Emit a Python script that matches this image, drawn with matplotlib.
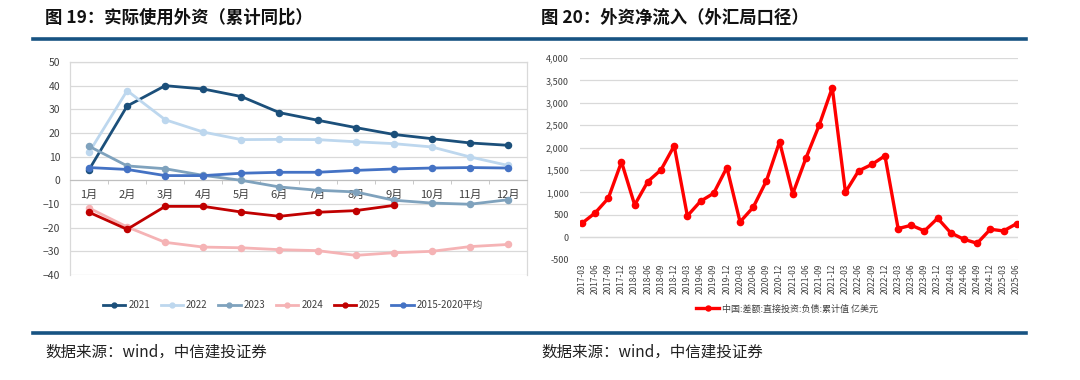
import matplotlib
matplotlib.use("Agg")
import matplotlib.pyplot as plt
from matplotlib.ticker import FuncFormatter, FixedLocator
from matplotlib.lines import Line2D

plt.rcParams['font.family'] = ['Noto Sans CJK SC', 'DejaVu Sans']

# ---------------- data: left chart ----------------
months = ["1月", "2月", "3月", "4月", "5月", "6月", "7月", "8月", "9月", "10月", "11月", "12月"]
y2021 = [4.5, 31.4, 40.0, 38.6, 35.4, 28.6, 25.4, 22.3, 19.4, 17.6, 15.8, 14.8]
y2022 = [11.8, 37.9, 25.6, 20.4, 17.2, 17.3, 17.2, 16.3, 15.5, 14.1, 9.9, 6.3]
y2023 = [14.4, 6.1, 4.9, 2.1, 0.0, -2.8, -4.2, -4.9, -8.4, -9.6, -10.1, -8.2]
y2024 = [-11.7, -19.7, -26.2, -28.2, -28.5, -29.3, -29.7, -31.7, -30.6, -30.0, -28.0, -27.1]
y2025 = [-13.5, -20.7, -11.0, -11.0, -13.4, -15.2, -13.5, -12.8, -10.6]
yavg = [5.4, 4.6, 2.0, 2.0, 3.0, 3.4, 3.4, 4.2, 4.8, 5.2, 5.4, 5.2]
left_series = [("2021", y2021), ("2022", y2022), ("2023", y2023),
               ("2024", y2024), ("2025", y2025), ("2015-2020平均", yavg)]

# ---------------- data: right chart ----------------
quarters = ["2017-03", "2017-06", "2017-09", "2017-12",
            "2018-03", "2018-06", "2018-09", "2018-12",
            "2019-03", "2019-06", "2019-09", "2019-12",
            "2020-03", "2020-06", "2020-09", "2020-12",
            "2021-03", "2021-06", "2021-09", "2021-12",
            "2022-03", "2022-06", "2022-09", "2022-12",
            "2023-03", "2023-06", "2023-09", "2023-12",
            "2024-03", "2024-06", "2024-09", "2024-12",
            "2025-03", "2025-06"]
fdi_liab = [313, 544, 872, 1683, 722, 1244, 1505, 2041, 477, 804, 983, 1557,
            343, 670, 1259, 2130, 968, 1765, 2495, 3337, 1006, 1482, 1624, 1818,
            194, 268, 142, 425, 97, -45, -134, 179, 142, 305]
right_label = "中国:差额:直接投资:负债:累计值 亿美元"

left_colors = ["#1B4F7A", "#BDD7EE", "#7FA2BD", "#F5B3B5", "#C00000", "#4472C4"]

W, H = 1080, 380
fig = plt.figure(figsize=(W / 100, H / 100), dpi=100)

def fx(px):
    return px / W

def fy(py):
    return 1 - py / H

# Titles
fig.text(fx(45), fy(18), "图 19：实际使用外资（累计同比）", fontsize=12.5, fontweight='bold',
         va='center', ha='left', color='#111111')
fig.text(fx(541), fy(18), "图 20：外资净流入（外汇局口径）", fontsize=12.5, fontweight='bold',
         va='center', ha='left', color='#111111')

# header / footer rules
for yy in (39, 333):
    fig.add_artist(Line2D([fx(33), fx(1026)], [fy(yy), fy(yy)], color='#175382', lw=2.6))

# footers
fig.text(fx(45), fy(352), "数据来源：wind，中信建投证券", fontsize=11.2, va='center', ha='left',
         color='#222222', style='italic')
fig.text(fx(541), fy(352), "数据来源：wind，中信建投证券", fontsize=11.2, va='center', ha='left',
         color='#222222', style='italic')

# ---------------- left chart ----------------
axL = fig.add_axes([fx(70), fy(275), fx(527) - fx(70), fy(62) - fy(275)])
xs = list(range(len(months)))
for (name, vals), col in zip(left_series, left_colors):
    axL.plot(xs[:len(vals)], vals, color=col, lw=2.0, marker='o', ms=4.4,
             label=name, zorder=3)
axL.set_xlim(-0.5, 11.5)
axL.set_ylim(-40, 50)
axL.set_yticks(range(-40, 51, 10))
axL.grid(axis='y', color='#D9D9D9', lw=0.9, zorder=0)
axL.set_axisbelow(True)
for s in ('top', 'left', 'right'):
    axL.spines[s].set_color('#D9D9D9')
    axL.spines[s].set_linewidth(0.9)
axL.spines['bottom'].set_position(('data', 0))
axL.spines['bottom'].set_color('#BFBFBF')
axL.set_xticks(xs)
axL.set_xticklabels(months)
axL.xaxis.set_minor_locator(FixedLocator([i + 0.5 for i in range(-1, 12)]))
axL.tick_params(axis='x', which='major', length=0, pad=7, labelsize=8, labelcolor='#404040')
axL.tick_params(axis='x', which='minor', length=3, color='#BFBFBF')
axL.tick_params(axis='y', length=0, pad=7, labelsize=7.5, labelcolor='#404040')
axL.legend(loc='center', bbox_to_anchor=(fx(293), fy(305)), bbox_transform=fig.transFigure,
           ncol=6, frameon=False, fontsize=7, labelcolor='#404040',
           handlelength=2.3, columnspacing=1.1, handletextpad=0.3, markerscale=0.8)

# ---------------- right chart ----------------
axR = fig.add_axes([fx(580), fy(259.7), fx(1018) - fx(580), fy(58) - fy(259.7)])
xr = list(range(len(quarters)))
axR.plot(xr, fdi_liab, color='#FF0000', lw=2.4, marker='o', ms=4.5, label=right_label, zorder=3)
axR.set_xlim(-0.15, 33.1)
axR.set_ylim(-500, 4000)
axR.set_yticks(range(-500, 4001, 500))
axR.yaxis.set_major_formatter(FuncFormatter(lambda v, p: f"{int(v):,}"))
axR.grid(axis='y', color='#D9D9D9', lw=0.9, zorder=0)
axR.set_axisbelow(True)
for s in axR.spines.values():
    s.set_visible(False)
axR.axhline(0, color='#D9D9D9', lw=0.9, zorder=1)
axR.set_xticks(xr)
axR.set_xticklabels(quarters, rotation=90)
axR.tick_params(axis='x', length=0, pad=3, labelsize=6, labelcolor='#404040')
axR.tick_params(axis='y', length=0, pad=8, labelsize=6.5, labelcolor='#404040')
axR.legend(loc='center', bbox_to_anchor=(fx(787), fy(309)), bbox_transform=fig.transFigure,
           frameon=False, fontsize=6.5, labelcolor='#404040', handlelength=2.6,
           handletextpad=0.3, markerscale=0.8)

fig.savefig("out.png", dpi=100)
